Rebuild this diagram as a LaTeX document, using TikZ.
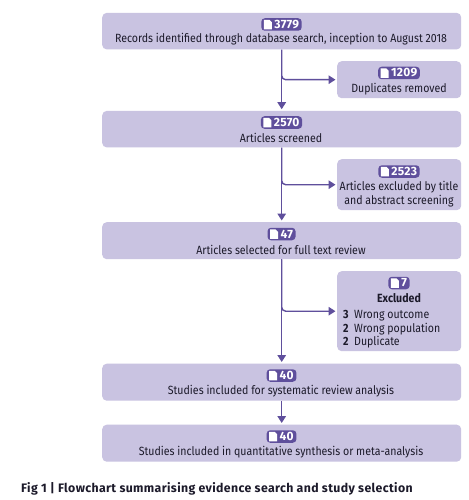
\documentclass[tikz,border=0pt]{standalone}
\usepackage{fontspec}
\setmainfont[FakeStretch=0.89]{Fira Sans}
\newfontfamily\capfont[LetterSpace=3]{Fira Sans}
\newfontfamily\numfont[LetterSpace=2]{Fira Sans}
\usetikzlibrary{arrows.meta,calc}
\definecolor{boxfill}{HTML}{C9C3E1}
\definecolor{purp}{HTML}{5F4F9C}
\definecolor{ink}{HTML}{1C1A2A}
\tikzset{
  flowbox/.style={fill=boxfill,rounded corners=4.5pt,inner sep=0pt,anchor=north west},
  lbl/.style={text=ink,font=\fontsize{11.9}{13.3}\selectfont,align=center,inner sep=0pt,yshift=-1pt},
  badge/.style={fill=purp,rounded corners=3.5pt,text=white,font=\numfont\fontsize{12}{12}\selectfont\bfseries,inner ysep=0pt,inner xsep=2.6pt,minimum height=12.5pt},
  icon/.style={fill=white},
  link/.style={draw=purp,line width=1.4pt,-{Triangle[length=7pt,width=8.5pt]},shorten >=1.5pt},
  branch/.style={link,rounded corners=4pt},
}
\newcommand{\badgeat}[4]{%
  \node[badge] (#1) at (#2,#3) {\hspace{10.5pt}#4};
  \fill[icon] ($(#1.west)+(2.7,-4.7)$) -- ++(5.5,0) -- ++(2.5,2.5) -- ++(0,7) -- ++(-8,0) -- cycle;
}
\begin{document}
\begin{tikzpicture}[x=1pt,y=-1pt]
\useasboundingbox (0,0) rectangle (468,500);
\fill[white] (0,0) rectangle (468,500);

\node[flowbox,minimum width=359pt,minimum height=36.5pt] (b1) at (102,12.7) {};
\node[flowbox,minimum width=124pt,minimum height=37pt] (d1) at (337,61) {};
\node[flowbox,minimum width=359pt,minimum height=36.5pt] (b2) at (102,110.7) {};
\node[flowbox,minimum width=124pt,minimum height=51pt] (d2) at (337,159) {};
\node[flowbox,minimum width=359pt,minimum height=37pt] (b3) at (102,222) {};
\node[flowbox,minimum width=124pt,minimum height=80pt] (d3) at (337,271) {};
\node[flowbox,minimum width=359pt,minimum height=37pt] (b4) at (102,363.5) {};
\node[flowbox,minimum width=359pt,minimum height=37pt] (b5) at (102,424.5) {};

\draw[link] (b1.south) -- (b2.north);
\draw[link] (b2.south) -- (b3.north);
\draw[link] (b3.south) -- (b4.north);
\draw[link] (b4.south) -- (b5.north);
\draw[branch] (b1.south) |- (d1.west);
\draw[branch] (b2.south) |- (d2.west);
\draw[branch] (b3.south) |- (d3.west);

\badgeat{n1}{281.5}{24.5}{3779}
\node[lbl] (t1) at (281,38.5) {Records identified through database search, inception to August 2018};
\badgeat{n2}{399}{73}{1209}
\node[lbl] (t2) at (399,88) {Duplicates removed};
\badgeat{n3}{281.5}{122.5}{2570}
\node[lbl] (t3) at (281,137) {Articles screened};
\badgeat{n4}{399}{171.5}{2523}
\node[lbl] (t4) at (399,193) {Articles excluded by title\\and abstract screening};
\badgeat{n5}{281.5}{234}{47}
\node[lbl] (t5) at (281,248.5) {Articles selected for full text review};
\badgeat{n6}{399}{283}{7}
\node[lbl,font=\fontsize{11.9}{13.3}\selectfont\bfseries] (t6) at (399,297) {Excluded};
\node[lbl,align=left,anchor=north west] (t7) at (343,309.5) {\textbf{3}\hspace{5.5pt}Wrong outcome\\\textbf{2}\hspace{5.5pt}Wrong population\\\textbf{2}\hspace{5.5pt}Duplicate};
\badgeat{n7}{281.5}{375.5}{40}
\node[lbl] (t8) at (281,390) {Studies included for systematic review analysis};
\badgeat{n8}{281.5}{436.5}{40}
\node[lbl] (t9) at (281,451) {Studies included in quantitative synthesis or meta-analysis};

\node[anchor=west,inner sep=0pt,text=ink,font=\capfont\fontsize{12.3}{14}\selectfont\bfseries] (cap) at (21,489) {Fig 1 | Flowchart summarising evidence search and study selection};
\end{tikzpicture}
\end{document}
